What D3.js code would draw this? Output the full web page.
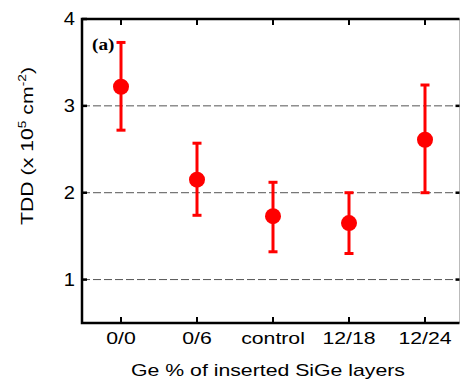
<!DOCTYPE html>
<html lang="en">
<head>
<meta charset="UTF-8">
<title>TDD vs Ge %</title>
<script src="https://d3js.org/d3.v7.min.js"></script>
<style>
  body { margin: 0; background: #fff; }
  text { font-family: 'Liberation Sans', Arial, sans-serif; }
</style>
</head>
<body>
<svg width="461" height="384"></svg>
<script>
// data
var categories = ["0/0", "0/6", "control", "12/18", "12/24"];
var tdd      = [3.22, 2.15, 1.73, 1.65, 2.61];
var errTop   = [3.73, 2.57, 2.12, 2.00, 3.24];
var errBot   = [2.72, 1.74, 1.32, 1.30, 2.00];
var yTicks   = [1, 2, 3, 4];
var gridVals = [1, 2, 3];

var svg = d3.select("svg");
// note: "top" is a reserved window prop, so use plot* names
var plotLeft = 82, plotRight = 459.5, plotTop = 19, plotBottom = 323;
var stretch = 1.25; // the original's font is wider than Arial

var x = d3.scalePoint().domain(categories).range([121, 425]);
var y = d3.scaleLinear().domain([0.5, 4]).range([plotBottom, plotTop]);

// dashed grid lines
svg.selectAll("line.grid")
  .data(gridVals).enter().append("line")
  .attr("class", "grid")
  .attr("x1", plotLeft).attr("x2", plotRight)
  .attr("y1", d => y(d)).attr("y2", d => y(d))
  .attr("stroke", "#555").attr("stroke-width", 1)
  .attr("stroke-dasharray", "8,3");

// frame
svg.append("line").attr("x1", plotRight).attr("x2", plotRight).attr("y1", plotTop).attr("y2", plotBottom)
  .attr("stroke", "#bbb").attr("stroke-width", 1);
svg.append("path")
  .attr("d", `M${plotRight},${plotTop}H${plotLeft}V${plotBottom}H${plotRight}`)
  .attr("fill", "none").attr("stroke", "#000").attr("stroke-width", 2.5);

// y ticks (inward, left and right)
svg.selectAll("line.ytl").data(yTicks).enter().append("line")
  .attr("x1", plotLeft).attr("x2", plotLeft + 5)
  .attr("y1", d => y(d)).attr("y2", d => y(d))
  .attr("stroke", "#000").attr("stroke-width", 2.5);
svg.selectAll("line.ytr").data(gridVals).enter().append("line")
  .attr("x1", plotRight - 4).attr("x2", plotRight)
  .attr("y1", d => y(d)).attr("y2", d => y(d))
  .attr("stroke", "#000").attr("stroke-width", 2.5);

// x ticks (inward, bottom and top)
svg.selectAll("line.xtb").data(categories).enter().append("line")
  .attr("x1", d => x(d)).attr("x2", d => x(d))
  .attr("y1", plotBottom).attr("y2", plotBottom - 6)
  .attr("stroke", "#000").attr("stroke-width", 2);
svg.selectAll("line.xtt").data(categories).enter().append("line")
  .attr("x1", d => x(d)).attr("x2", d => x(d))
  .attr("y1", plotTop).attr("y2", plotTop + 6)
  .attr("stroke", "#000").attr("stroke-width", 2);

// tick labels
svg.selectAll("text.yl").data(yTicks).enter().append("text")
  .attr("transform", d => `translate(75,${y(d) + 6}) scale(1.15,1)`)
  .attr("text-anchor", "end").attr("font-size", 17.5)
  .text(d => d);
svg.selectAll("text.xl").data(categories).enter().append("text")
  .attr("transform", d => `translate(${x(d)},344) scale(${stretch},1)`)
  .attr("text-anchor", "middle").attr("font-size", 17)
  .text(d => d);

// axis titles
svg.append("text")
  .attr("transform", `translate(268,376) scale(${stretch},1)`)
  .attr("text-anchor", "middle").attr("font-size", 17)
  .text("Ge % of inserted SiGe layers");

var yt = svg.append("text")
  .attr("transform", `translate(33,146) rotate(-90) scale(${stretch},1)`)
  .attr("text-anchor", "middle").attr("font-size", 17);
yt.append("tspan").text("TDD (x 10");
yt.append("tspan").attr("font-size", 11).attr("dy", -7).text("5");
yt.append("tspan").attr("dy", 7).text(" cm");
yt.append("tspan").attr("font-size", 11).attr("dy", -7).text("-2");
yt.append("tspan").attr("dy", 7).text(")");

// panel label
svg.append("text")
  .attr("transform", "translate(92,50) scale(1.2,1)")
  .style("font-family", "'Liberation Serif', 'Times New Roman', serif")
  .attr("font-weight", "bold").attr("font-size", 16)
  .text("(a)");

// error bars
var red = "#ff0000";
var g = svg.selectAll("g.pt").data(categories).enter().append("g");
g.append("line")
  .attr("x1", d => x(d)).attr("x2", d => x(d))
  .attr("y1", (d, i) => y(errTop[i])).attr("y2", (d, i) => y(errBot[i]))
  .attr("stroke", red).attr("stroke-width", 3);
g.append("line")
  .attr("x1", d => x(d) - 4.5).attr("x2", d => x(d) + 4.5)
  .attr("y1", (d, i) => y(errTop[i])).attr("y2", (d, i) => y(errTop[i]))
  .attr("stroke", red).attr("stroke-width", 3);
g.append("line")
  .attr("x1", d => x(d) - 4.5).attr("x2", d => x(d) + 4.5)
  .attr("y1", (d, i) => y(errBot[i])).attr("y2", (d, i) => y(errBot[i]))
  .attr("stroke", red).attr("stroke-width", 3);
g.append("circle")
  .attr("cx", d => x(d)).attr("cy", (d, i) => y(tdd[i]))
  .attr("r", 8).attr("fill", red);
</script>
</body>
</html>
